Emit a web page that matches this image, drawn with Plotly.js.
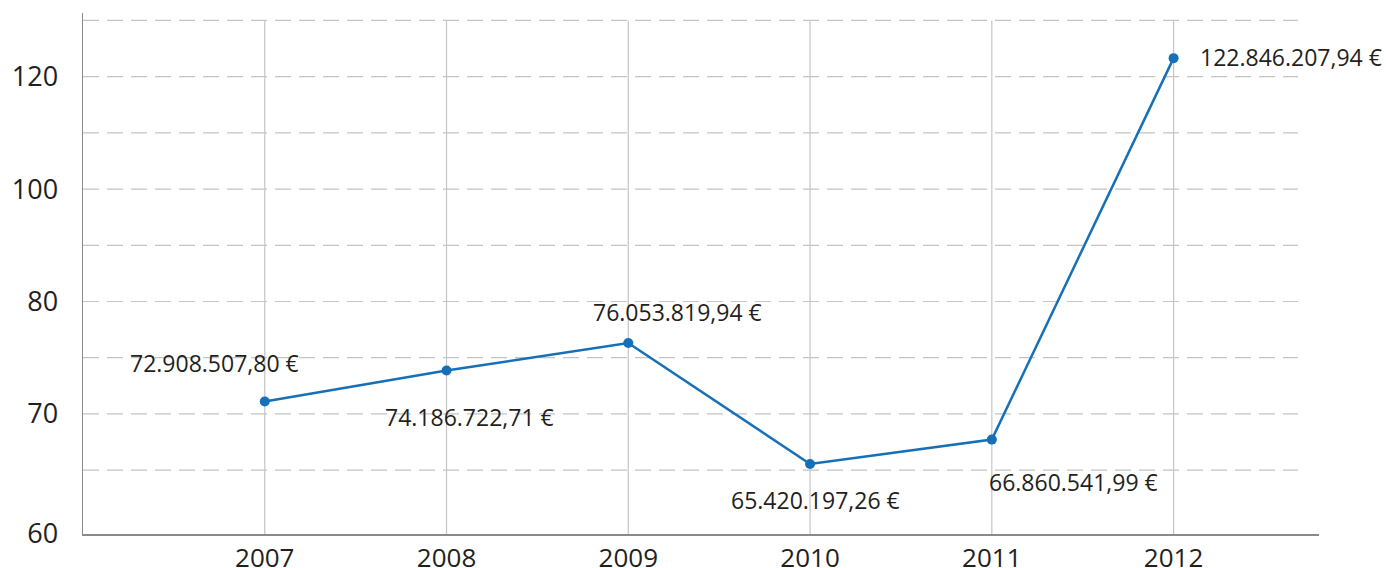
<!DOCTYPE html>
<html>
<head>
<meta charset="utf-8">
<script src="https://cdn.plot.ly/plotly-3.0.1.min.js"></script>
<style>html,body{margin:0;padding:0;background:#fff;}#chart{width:1386px;height:568px;}</style>
</head>
<body>
<div id="chart"></div>
<script>
// ---- data (values as read against the chart's own y axis) ----
const years = ['2007', '2008', '2009', '2010', '2011', '2012'];
const plottedValues = [71.1, 73.86, 76.3, 65.83, 67.86, 123.3];
const valueLabels = ['72.908.507,80 €', '74.186.722,71 €', '76.053.819,94 €',
                     '65.420.197,26 €', '66.860.541,99 €', '122.846.207,94 €'];
const yTickLabels = [60, 70, 80, 100, 120];

// ---- axis layout (non-uniform value axis, in gridline steps) ----
const yTickSteps = [0, 2.137, 4.137, 6.137, 8.137];
function toAxis(v) {
  for (let i = 0; i < yTickLabels.length - 1; i++) {
    const a = yTickLabels[i], b = yTickLabels[i + 1];
    if (v <= b || i === yTickLabels.length - 2) {
      return yTickSteps[i] + (v - a) / (b - a) * (yTickSteps[i + 1] - yTickSteps[i]);
    }
  }
}
const gridSteps = [1.137, 2.137, 3.137, 4.137, 5.137, 6.137, 7.137, 8.137, 9.137];
const tickvals = [0].concat(gridSteps);
const ticktext = tickvals.map(t => {
  const i = yTickSteps.findIndex(s => Math.abs(s - t) < 1e-6);
  return i >= 0 ? String(yTickLabels[i]) : '';
});

// label offsets (pixels) – placement only
const labelShift = [[-50, 39], [23, -46], [49, 31], [5, -36], [82, -42], [24, 1]];
const labelAnchor = ['center', 'center', 'center', 'center', 'center', 'left'];

const xIdx = years.map((_, i) => i);
const yPos = plottedValues.map(toAxis);
const textColor = '#231f20';
const lineColor = '#1570b8';

const shapes = [];
gridSteps.forEach(g => shapes.push({
  type: 'line', xref: 'paper', yref: 'y', x0: 0, x1: 0.983, y0: g, y1: g,
  line: {color: '#c4c4c4', width: 1.2, dash: '16px,8px'}, layer: 'below'
}));
xIdx.forEach(xi => shapes.push({
  type: 'line', xref: 'x', yref: 'y', x0: xi, x1: xi, y0: 0, y1: 9.137,
  line: {color: '#c4c4c4', width: 1.2}, layer: 'below'
}));

const annotations = xIdx.map((xi, i) => ({
  x: xi, y: yPos[i], xref: 'x', yref: 'y', text: valueLabels[i], showarrow: false,
  xanchor: labelAnchor[i], yanchor: 'middle',
  xshift: labelShift[i][0], yshift: labelShift[i][1],
  font: {family: 'Open Sans, sans-serif', size: 23, color: textColor}
}));

const trace = {
  x: xIdx, y: yPos, type: 'scatter', mode: 'lines+markers',
  line: {color: lineColor, width: 2.5},
  marker: {color: lineColor, size: 10},
  hoverinfo: 'skip', cliponaxis: false
};

const layout = {
  width: 1386, height: 568,
  margin: {l: 83, r: 67, t: 13, b: 34},
  paper_bgcolor: '#ffffff', plot_bgcolor: '#ffffff',
  showlegend: false,
  font: {family: 'Open Sans, sans-serif', color: textColor},
  xaxis: {
    type: 'linear', range: [-1, 5.8], showgrid: false, zeroline: false,
    tickmode: 'array', tickvals: xIdx, ticktext: years,
    showline: true, linecolor: '#8a8a8a', linewidth: 1.5,
    ticks: '', tickfont: {size: 26, color: textColor}, ticklabelstandoff: 0
  },
  yaxis: {
    range: [0, 9.27], tickmode: 'array', tickvals: tickvals, ticktext: ticktext,
    showgrid: false, zeroline: false, showline: true, linecolor: '#8a8a8a', linewidth: 1.5,
    ticks: '', tickfont: {size: 27, color: textColor}, ticklabelstandoff: 18
  },
  shapes: shapes,
  annotations: annotations
};

Plotly.newPlot('chart', [trace], layout, {displayModeBar: false, staticPlot: true});
</script>
</body>
</html>
